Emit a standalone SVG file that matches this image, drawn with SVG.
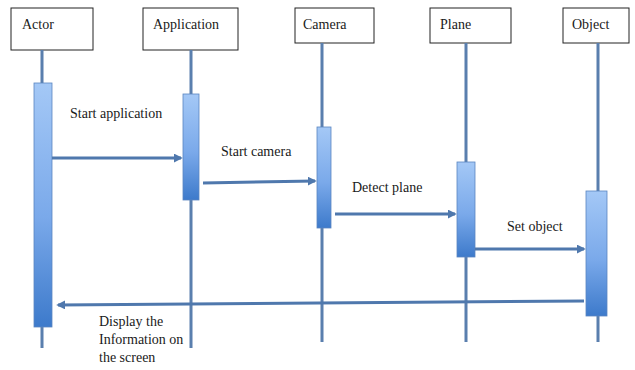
<svg xmlns="http://www.w3.org/2000/svg" width="635" height="370" viewBox="0 0 635 370">
<style>
.box{fill:#fff;stroke:#222;stroke-width:1}
text{font-family:'Liberation Serif','DejaVu Serif',serif;font-size:14px;fill:#1a1a1a}
.life{stroke:#5a7fae;stroke-width:3}
.act{fill:url(#g);stroke:#5a85c0;stroke-width:0.8}
.msg{stroke:#4f78ad;stroke-width:3;fill:none;marker-end:url(#ah)}
</style>
<defs>
<linearGradient id="g" x1="0" y1="0" x2="0" y2="1">
<stop offset="0" stop-color="#a4c8f6"/>
<stop offset="0.55" stop-color="#7aa9ea"/>
<stop offset="1" stop-color="#3d7acb"/>
</linearGradient>
<marker id="ah" markerWidth="3" markerHeight="3" refX="2.4" refY="1.5" orient="auto" markerUnits="strokeWidth">
<path d="M0,0 L3,1.5 L0,3 Z" fill="#4f78ad"/>
</marker>
</defs>
<g id="actor">
<rect class="box" x="11" y="8" width="82" height="42"/>
<text x="22" y="29">Actor</text>
<line class="life" x1="42" y1="50" x2="42" y2="348"/>
<rect class="act" x="34" y="83" width="18" height="244"/>
</g>
<g id="application">
<rect class="box" x="143" y="8" width="95" height="42"/>
<text x="153" y="29">Application</text>
<line class="life" x1="191" y1="50" x2="191" y2="348"/>
<rect class="act" x="183" y="94" width="16" height="106"/>
</g>
<g id="camera">
<rect class="box" x="295" y="8" width="79" height="35"/>
<text x="303" y="29">Camera</text>
<line class="life" x1="322" y1="43" x2="322" y2="342"/>
<rect class="act" x="317" y="127" width="14" height="101"/>
</g>
<g id="plane">
<rect class="box" x="430" y="8" width="81" height="35"/>
<text x="440" y="29">Plane</text>
<line class="life" x1="466" y1="43" x2="466" y2="342"/>
<rect class="act" x="457" y="162" width="18" height="95"/>
</g>
<g id="object">
<rect class="box" x="563" y="8" width="66" height="35"/>
<text x="572" y="29">Object</text>
<line class="life" x1="598" y1="43" x2="598" y2="342"/>
<rect class="act" x="586" y="191" width="21" height="125"/>
</g>
<g id="connectors">
<line class="msg" x1="52" y1="158" x2="181" y2="158"/>
<text x="70" y="118">Start application</text>
<line class="msg" x1="203" y1="183" x2="315" y2="181"/>
<text x="221" y="156">Start camera</text>
<line class="msg" x1="335" y1="214" x2="455" y2="214"/>
<text x="352" y="192">Detect plane</text>
<line class="msg" x1="475" y1="249" x2="584" y2="249"/>
<text x="507" y="231">Set object</text>
<line class="msg" x1="584" y1="301" x2="58" y2="305"/>
<text x="99" y="326">Display the</text>
<text x="99" y="344">Information on</text>
<text x="99" y="362">the screen</text>
</g>
</svg>
